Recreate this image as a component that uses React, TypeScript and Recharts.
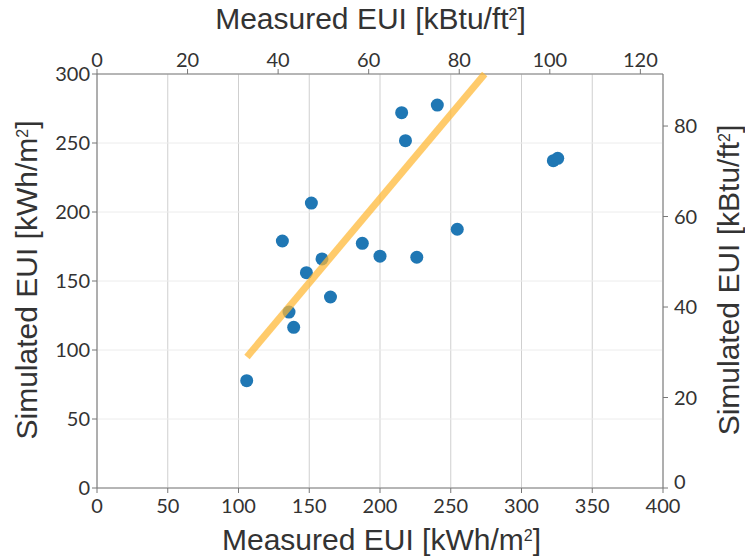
import { ScatterChart, Scatter, XAxis, YAxis, CartesianGrid } from 'recharts';

// measured vs simulated EUI, kWh/m2
const measured = [105.8, 131, 151.5, 159, 148, 165, 135.7, 139, 187.5, 200, 215.3, 240.5, 218, 322.5, 325.6, 254.6, 226];
const simulated = [77.8, 179, 206.5, 166, 156, 138.4, 127.5, 116.4, 177.3, 168, 272, 277.5, 251.7, 237.2, 238.9, 187.5, 167.2];

// fitted trend line end points
const fitX = [106, 274];
const fitY = [95, 300];

const kwhTicks = [0, 50, 100, 150, 200, 250, 300, 350, 400];
const simTicks = [0, 50, 100, 150, 200, 250, 300];
const kbtuTicksTop = [0, 20, 40, 60, 80, 100, 120];
const kbtuTicksRight = [0, 20, 40, 60, 80];

const KWH_PER_KBTU = 3.155;

const points = measured.map((m, i) => ({ x: m, y: simulated[i] }));
const fit = fitX.map((x, i) => ({ x, y: fitY[i] }));
// same points in kBtu/ft2, only so the secondary axes get drawn
const pointsKbtu = points.map((p) => ({ x: p.x / KWH_PER_KBTU, y: p.y / KWH_PER_KBTU }));

const tickFont = { fontSize: 20, fill: '#333', fontFamily: 'Lato, sans-serif' };
const titleStyle: React.CSSProperties = {
  position: 'absolute',
  fontSize: 30,
  lineHeight: '34px',
  color: '#333',
  fontFamily: '"Liberation Sans", Arial, sans-serif',
  whiteSpace: 'nowrap',
};
const sup: React.CSSProperties = { fontSize: 16, verticalAlign: 'top', position: 'relative', top: -4 };

// right axis labels; the 0 is lifted a bit so it clears the 400 below it
const RightTick = (props: any) => {
  const v = props.payload.value;
  return (
    <text x={props.x} y={props.y} textAnchor="start" dy={v === 0 ? '0.05em' : '0.355em'} {...tickFont}>
      {v}
    </text>
  );
};

export default function App() {
  return (
    <div style={{ position: 'absolute', left: 0, top: 0, width: 745, height: 558, background: '#fff' }}>
      <ScatterChart width={745} height={558} margin={{ top: 0, right: 0, bottom: 0, left: 0 }}>
        <CartesianGrid xAxisId="b" yAxisId="l" horizontal={false} stroke="#cfcfcf" />
        <CartesianGrid xAxisId="b" yAxisId="l" vertical={false} stroke="#ececec" />
        <XAxis xAxisId="b" type="number" dataKey="x" domain={[0, 400]} ticks={kwhTicks}
          height={70} tickSize={5} tickMargin={6} tick={tickFont} stroke="#777" interval={0} />
        <XAxis xAxisId="t" orientation="top" type="number" dataKey="x" domain={[0, 125]} ticks={kbtuTicksTop}
          height={74} tickSize={5} tickMargin={2} tick={tickFont} stroke="#777" interval={0} />
        <YAxis yAxisId="l" type="number" dataKey="y" domain={[0, 300]} ticks={simTicks}
          width={97} tickSize={5} tickMargin={2} tick={tickFont} stroke="#777" interval={0} />
        <YAxis yAxisId="r" orientation="right" type="number" dataKey="y" domain={[0, 91.5]} ticks={kbtuTicksRight}
          width={82} tickSize={5} tickMargin={6} tick={RightTick} stroke="#777" interval={0} />
        <Scatter xAxisId="t" yAxisId="r" data={pointsKbtu} isAnimationActive={false} shape={() => <g />} />
        <Scatter xAxisId="b" yAxisId="l" data={points} fill="#1f77b4" isAnimationActive={false}
          shape={(p: any) => <circle cx={p.cx} cy={p.cy} r={6.5} fill="#1f77b4" />} />
        <Scatter xAxisId="b" yAxisId="l" data={fit} isAnimationActive={false}
          line={{ stroke: '#ffb732', strokeWidth: 7, strokeOpacity: 0.72 }}
          shape={() => <g />} />
      </ScatterChart>
      <div style={{ ...titleStyle, left: 0, width: 745, textAlign: 'center', top: 2 }}>
        <span style={{ position: 'relative', left: -2 }}>Measured EUI [kBtu/ft<span style={sup}>2</span>]</span>
      </div>
      <div style={{ ...titleStyle, left: 0, width: 745, textAlign: 'center', top: 523 }}>
        <span style={{ position: 'relative', left: 9 }}>Measured EUI [kWh/m<span style={sup}>2</span>]</span>
      </div>
      <div style={{ ...titleStyle, left: 27, top: 280, transform: 'translate(-50%, -50%) rotate(-90deg)' }}>
        Simulated EUI [kWh/m<span style={sup}>2</span>]
      </div>
      <div style={{ ...titleStyle, left: 729, top: 280, transform: 'translate(-50%, -50%) rotate(-90deg)' }}>
        Simulated EUI [kBtu/ft<span style={sup}>2</span>]
      </div>
    </div>
  );
}
